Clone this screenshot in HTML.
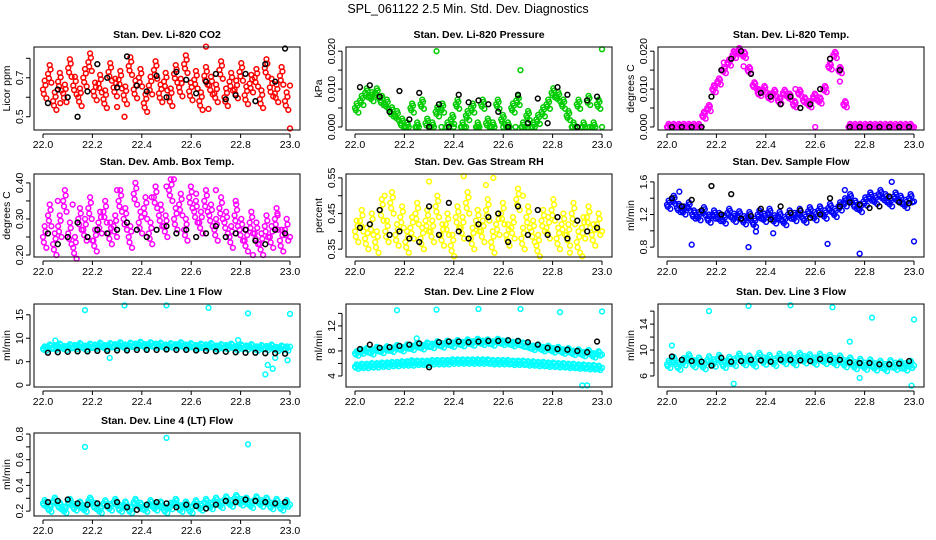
<!DOCTYPE html>
<html><head><meta charset="utf-8"><style>
html,body{margin:0;padding:0;background:#fff;}
svg{display:block;font-family:"Liberation Sans",sans-serif;}
</style></head><body>
<svg id="chart" width="936" height="540" viewBox="0 0 936 540">
<text x="468" y="13" text-anchor="middle" font-size="12.5">SPL_061122  2.5 Min. Std. Dev. Diagnostics</text>
</svg>
<script>
// x categories (decimal day)
const xTicks = [22.0, 22.2, 22.4, 22.6, 22.8, 23.0];
const xTickLabels = ["22.0","22.2","22.4","22.6","22.8","23.0"];
const nColor = 50, nBlack = 25;

const co2Vals = [0.64,0.72,0.58,0.68,0.62,0.75,0.66,0.60,0.70,0.78,0.63,0.67,0.59,0.73,0.65,0.69,0.61,0.76,0.64,0.70,0.57,0.66,0.74,0.62,0.68,0.60,0.72,0.65,0.77,0.63,0.69,0.58,0.71,0.66,0.62,0.74,0.60,0.68,0.64,0.73,0.61,0.67,0.70,0.59,0.75,0.65,0.62,0.71,0.58,0.66];
const co2Black = [0.57,0.64,0.60,0.50,0.63,0.77,0.70,0.65,0.81,0.66,0.63,0.71,0.60,0.73,0.69,0.62,0.68,0.72,0.59,0.61,0.72,0.58,0.77,0.68,0.85];
const co2ExtraT = [22.66,22.67,23.0,22.33,22.07,22.3];
const co2ExtraV = [0.86,0.54,0.44,0.50,0.57,0.55];

const presVals = [0.005,0.007,0.009,0.008,0.009,0.007,0.006,0.004,0.003,0.001,0.000,0.005,0.000,0.006,0.001,0.000,0.004,0.005,0.000,0.002,0.006,0.000,0.003,0.005,0.000,0.006,0.001,0.000,0.006,0.002,0.000,0.005,0.007,0.000,0.003,0.000,0.002,0.004,0.006,0.009,0.008,0.006,0.003,0.000,0.006,0.000,0.007,0.000,0.006,0.000];
const presBlack = [0.0105,0.011,0.008,0.004,0.0095,0.002,0.009,0.000,0.006,0.000,0.0085,0.0065,0.007,0.006,0.004,0.000,0.0085,0.001,0.0075,0.001,0.0105,0.0085,0.000,0.007,0.008];
const presExtraT = [22.33,22.67,23.0,22.25,22.3,22.35,22.45,22.5,22.55,22.6,22.65,22.7,22.2,22.4,22.9,22.95];
const presExtraV = [0.020,0.015,0.0205,0.000,0.000,0.000,0.000,0.000,0.000,0.000,0.000,0.000,0.000,0.000,0.000,0.000];

const tempVals = [0,0,0,0,0,0,0,0.003,0.005,0.010,0.012,0.015,0.017,0.019,0.020,0.019,0.015,0.011,0.009,0.010,0.008,0.009,0.007,0.009,0.008,0.006,0.009,0.007,0.006,0.008,0.007,0.010,0.016,0.019,0.015,0.006,0,0,0,0,0,0,0,0,0,0,0,0,0,0];
const tempBlack = [0,0,0,0,0.008,0.015,0.018,0.020,0.014,0.009,0.008,0.006,0.008,0.005,0.006,0.010,0.018,0.015,0,0,0,0,0,0,0];
const tempExtraT = [22.15,22.19,22.23,22.27,22.31,22.37,22.45,22.52,22.6,22.66,22.7];
const tempExtraV = [0.004,0.011,0.017,0.020,0.016,0.010,0.007,0.010,0.000,0.018,0.012];

const ambVals = [0.25,0.31,0.23,0.28,0.35,0.26,0.22,0.30,0.27,0.33,0.24,0.29,0.32,0.26,0.28,0.35,0.30,0.25,0.37,0.29,0.33,0.26,0.36,0.31,0.28,0.38,0.30,0.34,0.27,0.36,0.32,0.29,0.35,0.31,0.27,0.33,0.29,0.25,0.31,0.27,0.24,0.29,0.26,0.23,0.28,0.25,0.30,0.24,0.27,0.25];
const ambBlack = [0.26,0.23,0.25,0.29,0.25,0.27,0.26,0.27,0.29,0.27,0.25,0.27,0.28,0.26,0.27,0.25,0.26,0.28,0.25,0.26,0.27,0.24,0.23,0.27,0.26];
const ambExtraT = [22.53,22.85,22.3,22.06,22.5,22.7,22.12,22.2,22.44,22.62,22.78,22.95];
const ambExtraV = [0.41,0.20,0.38,0.35,0.39,0.38,0.34,0.24,0.36,0.37,0.35,0.31];

const rhVals = [0.40,0.43,0.38,0.42,0.37,0.46,0.40,0.48,0.39,0.44,0.37,0.41,0.45,0.38,0.43,0.40,0.47,0.39,0.42,0.36,0.44,0.41,0.48,0.38,0.43,0.40,0.46,0.37,0.42,0.45,0.39,0.41,0.49,0.38,0.44,0.40,0.36,0.43,0.41,0.46,0.38,0.42,0.39,0.45,0.37,0.41,0.44,0.39,0.42,0.40];
const rhBlack = [0.41,0.42,0.46,0.39,0.40,0.38,0.37,0.47,0.39,0.48,0.40,0.38,0.42,0.44,0.45,0.37,0.47,0.39,0.46,0.39,0.44,0.38,0.43,0.40,0.41];
const rhExtraT = [22.3,22.44,22.56,22.92,22.87,22.68,22.12,22.53];
const rhExtraV = [0.54,0.555,0.55,0.33,0.34,0.50,0.50,0.53];

const flowVals = [1.32,1.38,1.28,1.25,1.30,1.20,1.18,1.24,1.15,1.20,1.17,1.14,1.22,1.16,1.19,1.13,1.18,1.10,1.20,1.16,1.22,1.14,1.18,1.12,1.20,1.17,1.22,1.15,1.24,1.18,1.25,1.20,1.28,1.22,1.30,1.35,1.40,1.32,1.28,1.36,1.42,1.38,1.45,1.40,1.35,1.42,1.38,1.33,1.40,1.36];
const flowBlack = [1.40,1.30,1.38,1.25,1.55,1.20,1.45,1.15,1.18,1.27,1.14,1.30,1.22,1.25,1.16,1.20,1.40,1.30,1.35,1.32,1.28,1.30,1.42,1.35,1.34];
const flowExtraT = [22.1,22.33,22.78,23.0,22.65,22.36,22.43,22.72,22.91,22.05];
const flowExtraV = [0.83,0.80,0.72,0.87,0.84,0.99,0.97,1.50,1.60,1.48];

const l1Vals = [7.8,8.2,8.0,8.4,7.9,8.3,8.1,8.5,8.0,8.4,8.2,8.6,8.1,8.5,8.3,8.7,8.2,8.6,8.4,8.8,8.3,8.7,8.4,8.6,8.2,8.5,8.3,8.7,8.2,8.5,8.1,8.4,8.2,8.5,8.0,8.3,8.1,8.4,7.9,8.2,8.0,8.3,7.8,8.1,7.9,8.2,7.7,8.0,7.8,8.2];
const l1Black = [6.9,7.0,7.1,7.2,7.2,7.3,7.3,7.4,7.4,7.5,7.5,7.5,7.6,7.5,7.5,7.4,7.3,7.2,7.1,7.0,6.9,6.9,6.8,6.8,6.7];
const l1ExtraT = [22.05,22.17,22.33,22.5,22.67,22.83,23.0,22.27,22.9,22.91,22.93,22.94,22.99,22.79];
const l1ExtraV = [9.5,16,17,17,16.5,15.3,15.2,5.8,2.3,4.3,3.5,5.8,5.3,9.6];

const l2Vals = [7.6,7.9,8.1,7.8,8.3,8.0,8.4,8.2,8.6,8.3,8.7,8.5,8.9,8.6,9.0,8.8,9.2,8.9,9.3,9.0,9.4,9.1,9.5,9.2,9.6,9.3,9.5,9.2,9.6,9.3,9.4,9.1,9.3,9.0,8.8,8.5,8.7,8.3,8.5,8.1,8.3,7.9,8.1,7.7,7.9,7.5,7.8,7.3,7.6,7.4];
const l2LowVals = [5.5,5.6,5.6,5.7,5.7,5.8,5.8,5.9,5.9,6.0,6.0,6.0,6.1,6.1,6.1,6.2,6.2,6.2,6.2,6.3,6.3,6.3,6.3,6.3,6.3,6.3,6.3,6.2,6.2,6.2,6.2,6.1,6.1,6.1,6.0,6.0,5.9,5.9,5.8,5.8,5.7,5.7,5.6,5.6,5.5,5.5,5.4,5.4,5.3,5.3];
const l2Black = [8.3,9.0,8.5,8.6,8.8,9.0,9.2,5.4,9.4,9.5,9.5,9.4,9.5,9.6,9.6,9.7,9.6,9.4,9.0,8.5,8.3,8.2,8.0,7.8,9.5];
const l2ExtraT = [22.17,22.33,22.5,22.67,22.83,23.0,22.92,22.94,22.23,22.25];
const l2ExtraV = [14.5,14.6,14.7,14.7,14.2,14.3,2.5,2.5,6.5,10];

const l3Vals = [7.8,8.4,7.5,8.2,8.8,7.9,8.3,7.6,8.5,8.0,8.7,7.8,8.4,8.1,8.9,8.2,8.6,8.0,9.0,8.3,8.7,8.1,8.9,8.4,8.8,8.2,9.0,8.5,8.8,8.3,8.9,8.4,8.7,8.2,8.6,7.9,8.3,7.6,8.1,7.5,8.0,7.4,7.8,7.3,7.9,7.5,7.7,7.4,7.8,7.6];
const l3Black = [9.0,8.5,8.3,8.2,7.6,8.8,8.2,8.3,8.5,8.4,8.2,8.5,8.5,8.4,8.3,8.6,8.5,8.5,8.1,8.0,8.0,7.8,7.8,7.9,8.3];
const l3ExtraT = [22.17,22.33,22.5,22.67,22.83,23.0,22.27,22.78,22.99,22.02,22.74];
const l3ExtraV = [16,16.8,16.9,16.6,15,14.7,4.8,5.7,4.5,10.7,11.3];

const l4Vals = [0.26,0.22,0.28,0.24,0.21,0.27,0.23,0.25,0.22,0.28,0.24,0.21,0.26,0.23,0.27,0.22,0.25,0.21,0.27,0.24,0.22,0.26,0.23,0.25,0.21,0.24,0.27,0.22,0.25,0.21,0.26,0.23,0.27,0.24,0.28,0.25,0.29,0.26,0.30,0.27,0.28,0.25,0.29,0.26,0.28,0.24,0.27,0.23,0.26,0.25];
const l4Black = [0.27,0.28,0.29,0.26,0.25,0.26,0.24,0.27,0.23,0.21,0.25,0.27,0.26,0.23,0.25,0.24,0.22,0.25,0.28,0.27,0.29,0.28,0.27,0.26,0.27];
const l4ExtraT = [22.17,22.5,22.83];
const l4ExtraV = [0.70,0.77,0.72];

// typical scatter half-width of each colored cloud (value units)
const bandSpread = [0.045,0.0012,0.0008,0.03,0.03,0.05,0.45,0.35,0.55,0.025];

const panelTitles = ["Stan. Dev. Li-820 CO2","Stan. Dev. Li-820 Pressure","Stan. Dev. Li-820 Temp.","Stan. Dev. Amb. Box Temp.","Stan. Dev. Gas Stream RH","Stan. Dev. Sample Flow","Stan. Dev. Line 1 Flow","Stan. Dev. Line 2 Flow","Stan. Dev. Line 3 Flow","Stan. Dev. Line 4 (LT) Flow"];
const yLabels = ["Licor ppm","kPa","degrees C","degrees C","percent","ml/min","ml/min","ml/min","ml/min","ml/min"];
const yTickVals = [[0.5,0.6,0.7,0.8],[0,0.005,0.01,0.015,0.02],[0,0.005,0.01,0.015,0.02],[0.2,0.25,0.3,0.35,0.4],[0.35,0.4,0.45,0.5,0.55],[0.8,1.0,1.2,1.4,1.6],[0,5,10,15],[4,6,8,10,12,14],[6,8,10,12,14,16],[0.2,0.3,0.4,0.5,0.6,0.7,0.8]];
const yTickText = [["0.5","","0.7",""],["0.000","","0.010","","0.020"],["0.000","","0.010","","0.020"],["0.20","","0.30","","0.40"],["0.35","","0.45","","0.55"],["0.8","","1.2","","1.6"],["0","5","10","15"],["4","","8","","12",""],["6","","10","","14",""],["0.2","","0.4","","0.6","","0.8"]];
const yDomains = [[0.432,0.858],[-0.0008,0.0211],[-0.0008,0.0211],[0.1945,0.4247],[0.328,0.561],[0.679,1.697],[-0.4,17.3],[2.24,15.5],[4.3,17.1],[0.162,0.808]];
const panelColors = ["#ff0000","#00cc00","#ff00ff","#ff00ff","#ffff00","#0000ff","#00ffff","#00ffff","#00ffff","#00ffff"];
const colorSeries = [[co2Vals],[presVals],[tempVals],[ambVals],[rhVals],[flowVals],[l1Vals],[l2Vals,l2LowVals],[l3Vals],[l4Vals]];
const blackSeries = [co2Black,presBlack,tempBlack,ambBlack,rhBlack,flowBlack,l1Black,l2Black,l3Black,l4Black];
const extraTs = [co2ExtraT,presExtraT,tempExtraT,ambExtraT,rhExtraT,flowExtraT,l1ExtraT,l2ExtraT,l3ExtraT,l4ExtraT];
const extraVs = [co2ExtraV,presExtraV,tempExtraV,ambExtraV,rhExtraV,flowExtraV,l1ExtraV,l2ExtraV,l3ExtraV,l4ExtraV];

const NS = "http://www.w3.org/2000/svg";
const svg = document.getElementById("chart");
const colLeft = [34, 346, 658];
const rowTop = [47, 174, 304, 433];
const boxW = 266, boxH = 83;
function mk(tag, attrs, parent) {
  const e = document.createElementNS(NS, tag);
  for (const k in attrs) e.setAttribute(k, attrs[k]);
  parent.appendChild(e);
  return e;
}
for (let p = 0; p < 10; p++) {
  const L = colLeft[p % 3], T = rowTop[Math.floor(p / 3)];
  const B = T + boxH;
  const g = mk("g", {}, svg);
  
  
  const xs = v => L + 9 + (v - 22) * 247;
  const dom = yDomains[p];
  const ys = v => B - (v - dom[0]) / (dom[1] - dom[0]) * boxH;
  const title = mk("text", {x: L + boxW / 2, y: T - 9, "text-anchor": "middle", "font-size": 10.5, "font-weight": "bold"}, g);
  title.textContent = panelTitles[p];
  
  
  // points
  const pts = mk("g", {fill: "none", "stroke-width": 1.5}, g);
  
  
  const col = panelColors[p];
  const sp = bandSpread[p];
  const floor0 = (p === 1 || p === 2);
  colorSeries[p].forEach(arr => {
    arr.forEach((v, i) => {
      const t = 22 + i / (nColor - 1);
      const dt = 1 / (nColor - 1);
      const cluster = [[0, v], [dt / 3, v + sp], [2 * dt / 3, v - sp], [dt / 6, v - sp / 2], [dt / 2, v + sp / 2]];
      cluster.forEach(([o, val]) => {
        if (t + o > 23.001) return;
        if (floor0 && val < 0) val = 0;
        const c = mk("circle", {cx: xs(t + o), cy: ys(val), r: 2.4, stroke: col}, pts);
        
        
      });
    });
  });
  extraTs[p].forEach((t, i) => {
    const c = mk("circle", {cx: xs(t), cy: ys(extraVs[p][i]), r: 2.4, stroke: col}, pts);
    
    
  });
  blackSeries[p].forEach((v, i) => {
    const c = mk("circle", {cx: xs(22.02 + i * 0.04), cy: ys(v), r: 2.4, stroke: "#000"}, pts);
    
    
  });
  const box = mk("rect", {x: L, y: T, width: boxW, height: boxH, fill: "none", stroke: "#000", "stroke-width": 1}, g);
  
  
  // x axis
  const xa = mk("g", {}, g);
  
  
  mk("line", {x1: xs(22), x2: xs(23), y1: B + 4, y2: B + 4, stroke: "#000"}, xa);
  xTicks.forEach((t, i) => {
    mk("line", {x1: xs(t), x2: xs(t), y1: B + 4, y2: B + 8, stroke: "#000"}, xa);
    const tx = mk("text", {x: xs(t), y: B + 18, "text-anchor": "middle", "font-size": 10.5}, xa);
    tx.textContent = xTickLabels[i];
    
    
  });
  // y axis
  const ya = mk("g", {}, g);
  
  
  const tv = yTickVals[p];
  mk("line", {x1: L - 4, x2: L - 4, y1: ys(tv[0]), y2: ys(tv[tv.length - 1]), stroke: "#000"}, ya);
  tv.forEach((v, i) => {
    mk("line", {x1: L - 8, x2: L - 4, y1: ys(v), y2: ys(v), stroke: "#000"}, ya);
    if (yTickText[p][i]) {
      const tx = mk("text", {x: 0, y: 0, "text-anchor": "middle", "font-size": 10.5, transform: "translate(" + (L - 11) + "," + ys(v) + ") rotate(-90)"}, ya);
      tx.textContent = yTickText[p][i];
      
      
    }
  });
  const yt = mk("text", {x: 0, y: 0, "text-anchor": "middle", "font-size": 10.5, transform: "translate(" + (L - 24) + "," + (T + boxH / 2) + ") rotate(-90)"}, g);
  yt.textContent = yLabels[p];
  
  
}
</script>
</body></html>
